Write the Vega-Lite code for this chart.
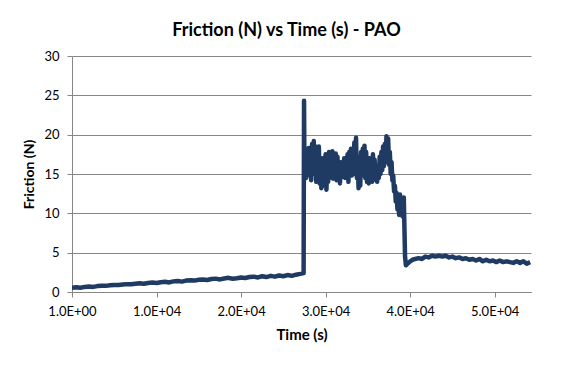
{
  "$schema": "https://vega.github.io/schema/vega-lite/v6.json",
  "autosize": {"type": "none"},
  "width": 459,
  "height": 236,
  "padding": {"left": 72, "top": 56, "right": 40, "bottom": 73},
  "background": "white",
  "title": {"text": "Friction (N) vs Time (s) - PAO", "font": "Lato", "fontSize": 18, "fontWeight": "bold", "color": "#000000", "anchor": "middle", "offset": 10, "dx": -15},
  "data": {"values": [
    {"t": 0, "f": 0.55}, {"t": 500, "f": 0.6}, {"t": 1000, "f": 0.55}, {"t": 1500, "f": 0.65}, {"t": 2000, "f": 0.7}, {"t": 2500, "f": 0.65}, {"t": 3000, "f": 0.75}, {"t": 3500, "f": 0.8}, {"t": 4000, "f": 0.78}, {"t": 4500, "f": 0.85}, {"t": 5000, "f": 0.9}, {"t": 5500, "f": 0.88}, {"t": 6000, "f": 0.95}, {"t": 6500, "f": 1.0}, {"t": 7000, "f": 0.98}, {"t": 7500, "f": 1.05}, {"t": 8000, "f": 1.1}, {"t": 8500, "f": 1.05}, {"t": 9000, "f": 1.15}, {"t": 9500, "f": 1.2}, {"t": 10000, "f": 1.15}, {"t": 10500, "f": 1.25}, {"t": 11000, "f": 1.3}, {"t": 11500, "f": 1.22}, {"t": 12000, "f": 1.35}, {"t": 12500, "f": 1.4}, {"t": 13000, "f": 1.32}, {"t": 13500, "f": 1.45}, {"t": 14000, "f": 1.5}, {"t": 14500, "f": 1.45}, {"t": 15000, "f": 1.55}, {"t": 15500, "f": 1.6}, {"t": 16000, "f": 1.52}, {"t": 16500, "f": 1.65}, {"t": 17000, "f": 1.7}, {"t": 17500, "f": 1.6}, {"t": 18000, "f": 1.72}, {"t": 18500, "f": 1.8}, {"t": 19000, "f": 1.68}, {"t": 19500, "f": 1.75}, {"t": 20000, "f": 1.85}, {"t": 20500, "f": 1.78}, {"t": 21000, "f": 1.9}, {"t": 21500, "f": 1.95}, {"t": 22000, "f": 1.85}, {"t": 22500, "f": 2.0}, {"t": 23000, "f": 1.9}, {"t": 23500, "f": 2.05}, {"t": 24000, "f": 1.95}, {"t": 24500, "f": 2.1}, {"t": 25000, "f": 2.0}, {"t": 25500, "f": 2.15}, {"t": 26000, "f": 2.05}, {"t": 26500, "f": 2.2}, {"t": 27000, "f": 2.3}, {"t": 27400, "f": 2.4},
    {"t": 27450, "f": 24.3}, {"t": 27500, "f": 15.0}, {"t": 27600, "f": 18.0}, {"t": 27700, "f": 14.5}, {"t": 27800, "f": 17.5}, {"t": 27900, "f": 14.8}, {"t": 28000, "f": 18.3}, {"t": 28100, "f": 15.2}, {"t": 28200, "f": 17.0}, {"t": 28300, "f": 14.2}, {"t": 28400, "f": 18.8}, {"t": 28500, "f": 15.5}, {"t": 28600, "f": 19.2}, {"t": 28700, "f": 15.0}, {"t": 28800, "f": 18.5}, {"t": 28900, "f": 14.0}, {"t": 29000, "f": 17.6}, {"t": 29100, "f": 14.5}, {"t": 29200, "f": 18.5}, {"t": 29300, "f": 13.8}, {"t": 29400, "f": 16.8}, {"t": 29500, "f": 13.2}, {"t": 29600, "f": 17.0}, {"t": 29700, "f": 13.5}, {"t": 29800, "f": 16.2}, {"t": 29900, "f": 14.8}, {"t": 30000, "f": 17.5}, {"t": 30100, "f": 13.0}, {"t": 30200, "f": 16.5}, {"t": 30300, "f": 14.0}, {"t": 30400, "f": 17.8}, {"t": 30500, "f": 14.5}, {"t": 30600, "f": 17.0}, {"t": 30700, "f": 15.2}, {"t": 30800, "f": 17.9}, {"t": 30900, "f": 14.4}, {"t": 31000, "f": 16.8}, {"t": 31100, "f": 15.0}, {"t": 31200, "f": 17.6}, {"t": 31300, "f": 14.2}, {"t": 31400, "f": 17.2}, {"t": 31500, "f": 14.8}, {"t": 31600, "f": 16.0}, {"t": 31700, "f": 13.8}, {"t": 31800, "f": 16.5}, {"t": 31900, "f": 14.6}, {"t": 32000, "f": 16.2}, {"t": 32100, "f": 15.0}, {"t": 32200, "f": 17.0}, {"t": 32300, "f": 14.5}, {"t": 32400, "f": 16.8}, {"t": 32500, "f": 15.2}, {"t": 32600, "f": 17.5}, {"t": 32700, "f": 14.0}, {"t": 32800, "f": 17.8}, {"t": 32900, "f": 15.5}, {"t": 33000, "f": 18.2}, {"t": 33100, "f": 14.8}, {"t": 33200, "f": 17.5}, {"t": 33300, "f": 15.0}, {"t": 33400, "f": 19.0}, {"t": 33500, "f": 15.8}, {"t": 33600, "f": 19.6}, {"t": 33700, "f": 14.5}, {"t": 33800, "f": 17.2}, {"t": 33900, "f": 13.2}, {"t": 34000, "f": 16.5}, {"t": 34100, "f": 13.5}, {"t": 34200, "f": 17.8}, {"t": 34300, "f": 14.8}, {"t": 34400, "f": 18.2}, {"t": 34500, "f": 15.2}, {"t": 34600, "f": 18.6}, {"t": 34700, "f": 14.5}, {"t": 34800, "f": 17.8}, {"t": 34900, "f": 14.0}, {"t": 35000, "f": 16.5}, {"t": 35100, "f": 13.8}, {"t": 35200, "f": 17.0}, {"t": 35300, "f": 14.2}, {"t": 35400, "f": 16.2}, {"t": 35500, "f": 14.0}, {"t": 35600, "f": 17.5}, {"t": 35700, "f": 15.0}, {"t": 35800, "f": 16.8}, {"t": 35900, "f": 14.3}, {"t": 36000, "f": 15.5}, {"t": 36100, "f": 14.0}, {"t": 36200, "f": 16.0}, {"t": 36300, "f": 14.5}, {"t": 36400, "f": 17.2}, {"t": 36500, "f": 15.0}, {"t": 36600, "f": 17.8}, {"t": 36700, "f": 15.5}, {"t": 36800, "f": 18.5}, {"t": 36900, "f": 16.0}, {"t": 37000, "f": 18.8}, {"t": 37100, "f": 16.5}, {"t": 37200, "f": 19.8}, {"t": 37300, "f": 17.0}, {"t": 37400, "f": 19.5}, {"t": 37500, "f": 16.2}, {"t": 37600, "f": 17.8}, {"t": 37700, "f": 15.0}, {"t": 37800, "f": 16.5}, {"t": 37900, "f": 14.2}, {"t": 38000, "f": 14.8}, {"t": 38100, "f": 12.8}, {"t": 38200, "f": 13.5}, {"t": 38300, "f": 11.5}, {"t": 38400, "f": 12.6}, {"t": 38500, "f": 10.5}, {"t": 38600, "f": 12.2}, {"t": 38700, "f": 9.8}, {"t": 38800, "f": 12.4}, {"t": 38900, "f": 10.2}, {"t": 39000, "f": 11.8}, {"t": 39100, "f": 9.6}, {"t": 39250, "f": 12.0}, {"t": 39400, "f": 4.5}, {"t": 39500, "f": 3.4},
    {"t": 39700, "f": 3.6}, {"t": 39800, "f": 3.7}, {"t": 40000, "f": 3.9}, {"t": 40300, "f": 4.1}, {"t": 40600, "f": 4.2}, {"t": 41000, "f": 4.3}, {"t": 41400, "f": 4.2}, {"t": 41800, "f": 4.5}, {"t": 42200, "f": 4.4}, {"t": 42600, "f": 4.6}, {"t": 43000, "f": 4.5}, {"t": 43400, "f": 4.6}, {"t": 43800, "f": 4.5}, {"t": 44200, "f": 4.6}, {"t": 44600, "f": 4.4}, {"t": 45000, "f": 4.5}, {"t": 45400, "f": 4.3}, {"t": 45800, "f": 4.4}, {"t": 46200, "f": 4.2}, {"t": 46600, "f": 4.3}, {"t": 47000, "f": 4.1}, {"t": 47400, "f": 4.2}, {"t": 47800, "f": 4.0}, {"t": 48200, "f": 4.2}, {"t": 48600, "f": 3.9}, {"t": 49000, "f": 4.1}, {"t": 49400, "f": 3.9}, {"t": 49800, "f": 4.0}, {"t": 50200, "f": 3.8}, {"t": 50600, "f": 4.0}, {"t": 51000, "f": 3.8}, {"t": 51400, "f": 3.9}, {"t": 51800, "f": 3.8}, {"t": 52200, "f": 3.7}, {"t": 52600, "f": 3.9}, {"t": 53000, "f": 3.7}, {"t": 53400, "f": 3.9}, {"t": 53800, "f": 3.6}, {"t": 54200, "f": 3.8}
  ]},
  "mark": {"type": "line", "color": "#1f3a63", "strokeWidth": 4.5, "strokeJoin": "round", "clip": true},
  "encoding": {
    "x": {"field": "t", "type": "quantitative", "title": "Time (s)",
      "scale": {"domain": [0, 54300], "nice": false, "zero": false},
      "axis": {"values": [1, 10000, 20000, 30000, 40000, 50000], "labelExpr": "datum.value < 2 ? '1.0E+00' : format(datum.value / 10000, '.1f') + 'E+04'", "grid": false, "domainColor": "#868686", "tickColor": "#868686", "tickSize": 5, "labelFont": "Lato", "labelFontSize": 13, "labelColor": "#000000", "labelPadding": 8, "titleFont": "Lato", "titleFontSize": 15, "titleFontWeight": "bold", "titleColor": "#000000", "titlePadding": 9, "labelFlush": false}
    },
    "y": {"field": "f", "type": "quantitative", "title": "Friction (N)",
      "scale": {"domain": [0, 30], "nice": false},
      "axis": {"values": [0, 5, 10, 15, 20, 25, 30], "grid": true, "gridColor": "#868686", "gridWidth": 1, "domainColor": "#868686", "tickColor": "#868686", "tickSize": 5, "labelFont": "Lato", "labelFontSize": 13, "labelColor": "#000000", "labelPadding": 8, "titleFont": "Lato", "titleFontSize": 14, "titleFontWeight": "bold", "titleColor": "#000000", "titlePadding": 7}
    }
  },
  "config": {"view": {"stroke": null}}
}
